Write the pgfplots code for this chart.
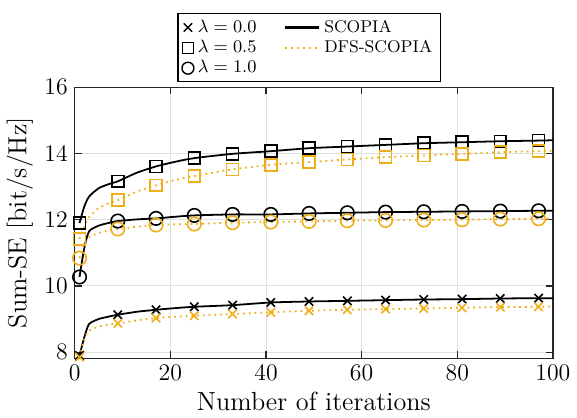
\documentclass[border=0pt]{standalone}
\usepackage{pgfplots}
\pgfplotsset{compat=1.18}
\definecolor{dfsorange}{RGB}{237,174,24}
\definecolor{axisgray}{RGB}{38,38,38}

% Sum-SE versus iteration count (curves)
\pgfplotstableread{
it  s0    d0    s5     d5     s1     d1
1   7.90  7.85  11.90  11.42  10.27  10.84
2   8.45  8.40  12.40  11.80  11.15  11.30
3   8.85  8.65  12.70  12.08  11.65  11.48
5   9.00  8.77  12.95  12.35  11.82  11.60
7   9.07  8.83  13.07  12.49  11.90  11.67
9   9.13  8.87  13.16  12.59  11.96  11.72
13  9.22  8.96  13.42  12.85  12.01  11.79
17  9.28  9.03  13.61  13.04  12.04  11.84
21  9.33  9.07  13.75  13.20  12.09  11.86
25  9.37  9.10  13.86  13.32  12.13  11.87
33  9.42  9.15  13.99  13.52  12.16  11.91
41  9.50  9.20  14.07  13.66  12.16  11.93
49  9.53  9.25  14.16  13.74  12.19  11.95
57  9.55  9.28  14.21  13.82  12.21  11.97
65  9.57  9.30  14.26  13.89  12.23  11.98
73  9.59  9.32  14.31  13.94  12.24  11.99
81  9.60  9.34  14.34  13.99  12.25  12.00
89  9.62  9.36  14.37  14.04  12.26  12.02
97  9.63  9.37  14.39  14.07  12.27  12.03
100 9.63  9.38  14.40  14.08  12.27  12.03
}\curves

% Marker positions (every 8th iteration)
\pgfplotstableread{
it  s0    d0    s5     d5     s1     d1
1   7.90  7.85  11.90  11.42  10.27  10.84
9   9.13  8.87  13.16  12.59  11.96  11.72
17  9.28  9.03  13.61  13.04  12.04  11.84
25  9.37  9.10  13.86  13.32  12.13  11.87
33  9.42  9.15  13.99  13.52  12.16  11.91
41  9.50  9.20  14.07  13.66  12.16  11.93
49  9.53  9.25  14.16  13.74  12.19  11.95
57  9.55  9.28  14.21  13.82  12.21  11.97
65  9.57  9.30  14.26  13.89  12.23  11.98
73  9.59  9.32  14.31  13.94  12.24  11.99
81  9.60  9.34  14.34  13.99  12.25  12.00
89  9.62  9.36  14.37  14.04  12.26  12.02
97  9.63  9.37  14.39  14.07  12.27  12.03
}\marks

\begin{document}
\begin{tikzpicture}
\begin{axis}[
  scale only axis,
  width=241pt, height=136.5pt,
  xmin=0, xmax=100, ymin=7.82, ymax=16,
  xtick={0,20,...,100}, ytick={8,10,...,16},
  grid=major,
  major grid style={black!12, line width=0.5pt},
  axis line style={axisgray, line width=0.6pt},
  tick style={axisgray, line width=0.6pt},
  tick align=inside,
  major tick length=3.5pt,
  tick label style={font=\fontsize{13}{14}\selectfont},
  label style={font=\fontsize{13.2}{15}\selectfont},
  xlabel={Number of iterations},
  ylabel={Sum-SE [bit/s/Hz]},
  xlabel style={yshift=1pt},
  ylabel style={yshift=-1pt},
  legend columns=2,
  legend cell align=left,
  legend style={at={(0.49,1.018)}, anchor=south,
    font=\fontsize{8.6}{10}\selectfont, draw=black, line width=0.6pt,
    inner xsep=2pt, inner ysep=1pt,
    /tikz/every even column/.append style={column sep=12pt},
    row sep=-1.5pt},
]
% legend keys
\addlegendimage{only marks, mark=x, mark size=3pt, black, line width=0.7pt}
\addlegendentry{$\lambda = 0.0$}
\addlegendimage{black, line width=1.1pt}
\addlegendentry{SCOPIA}
\addlegendimage{only marks, mark=square, mark size=2.8pt, black, line width=0.7pt}
\addlegendentry{$\lambda = 0.5$}
\addlegendimage{dfsorange, dotted, line width=1pt}
\addlegendentry{DFS-SCOPIA}
\addlegendimage{only marks, mark=o, mark size=3pt, black, line width=0.7pt}
\addlegendentry{$\lambda = 1.0$}
\addlegendimage{empty legend}
\addlegendentry{}

% curves
\addplot[forget plot, black, line width=0.9pt, smooth, tension=0.4] table[x=it, y=s0] {\curves};
\addplot[forget plot, dfsorange, dotted, line width=0.9pt, smooth, tension=0.4] table[x=it, y=d0] {\curves};
\addplot[forget plot, black, line width=0.9pt, smooth, tension=0.4] table[x=it, y=s5] {\curves};
\addplot[forget plot, dfsorange, dotted, line width=0.9pt, smooth, tension=0.4] table[x=it, y=d5] {\curves};
\addplot[forget plot, black, line width=0.9pt, smooth, tension=0.4] table[x=it, y=s1] {\curves};
\addplot[forget plot, dfsorange, dotted, line width=0.9pt, smooth, tension=0.4] table[x=it, y=d1] {\curves};

% markers
\addplot[forget plot, only marks, mark=x, mark size=3pt, black, line width=0.8pt] table[x=it, y=s0] {\marks};
\addplot[forget plot, only marks, mark=x, mark size=3pt, dfsorange, line width=0.8pt] table[x=it, y=d0] {\marks};
\addplot[forget plot, only marks, mark=square, mark size=3pt, black, line width=0.8pt] table[x=it, y=s5] {\marks};
\addplot[forget plot, only marks, mark=square, mark size=3pt, dfsorange, line width=0.8pt] table[x=it, y=d5] {\marks};
\addplot[forget plot, only marks, mark=o, mark size=3.4pt, black, line width=0.8pt] table[x=it, y=s1] {\marks};
\addplot[forget plot, only marks, mark=o, mark size=3.4pt, dfsorange, line width=0.8pt] table[x=it, y=d1] {\marks};
\end{axis}
% keep a margin above the legend
\path (current axis.north) -- ++(0,44pt);
\end{tikzpicture}
\end{document}
